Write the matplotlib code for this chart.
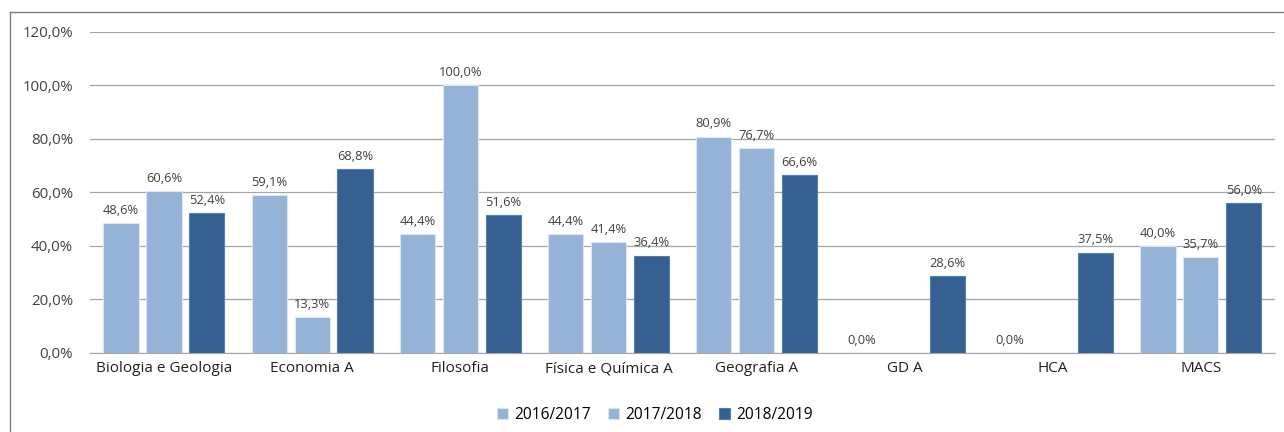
import numpy as np
import matplotlib.pyplot as plt
from matplotlib.lines import Line2D

categories = ['Biologia e Geologia', 'Economia A', 'Filosofia', 'Física e Química A',
              'Geografia A', 'GD A', 'HCA', 'MACS']
series_names = ['2016/2017', '2017/2018', '2018/2019']
v2016 = [48.6, 59.1, 44.4, 44.4, 80.9, 0.0, 0.0, 40.0]
v2017 = [60.6, 13.3, 100.0, 41.4, 76.7, np.nan, np.nan, 35.7]
v2018 = [52.4, 68.8, 51.6, 36.4, 66.6, 28.6, 37.5, 56.0]
colors = ['#95B3D7', '#95B3D7', '#366092']
edges = ['#DCE6F2', '#DCE6F2', '#4F81BD']

plt.rcParams['font.family'] = ['Open Sans', 'DejaVu Sans']

fig = plt.figure(figsize=(12.84, 4.32), dpi=100)
ax = fig.add_axes([0.070, 0.183, 0.923, 0.743])

x = np.arange(len(categories))
width = 0.237
step = 0.29
for i, (vals, name) in enumerate(zip([v2016, v2017, v2018], series_names)):
    pos = x + (i - 1) * step
    ax.bar(pos, vals, width, color=colors[i], edgecolor=edges[i], linewidth=0.8, label=name)
    for p, v in zip(pos, vals):
        if np.isnan(v):
            continue
        ax.text(p, v + 2.3, f'{v:.1f}%'.replace('.', ','), ha='center', va='bottom',
                fontsize=9.3, color='#404040')

ax.set_ylim(0, 120)
ax.set_xlim(-0.5, len(categories) - 0.5)
yt = np.arange(0, 121, 20)
ax.set_yticks(yt)
ax.set_yticklabels([f'{t:.1f}%'.replace('.', ',') for t in yt], fontsize=10.8, color='#404040')
ax.set_xticks(x)
ax.set_xticklabels(categories, fontsize=11, color='#202020')
ax.tick_params(axis='x', length=0, pad=6)
ax.tick_params(axis='y', length=0, pad=12)
ax.grid(axis='y', color='#A6A6A6', linewidth=0.9)
ax.set_axisbelow(True)
for s in ['top', 'right', 'left']:
    ax.spines[s].set_visible(False)
ax.spines['bottom'].set_color('#A6A6A6')

ax.legend(loc='upper center', bbox_to_anchor=(0.477, -0.125), ncol=3, frameon=False,
          fontsize=11.2, handlelength=0.7, handleheight=0.7, columnspacing=1.1, handletextpad=0.4)

# chart frame: top and left edges only
x0 = 10 / 1284
y0 = 1 - 12 / 432
fig.add_artist(Line2D([x0, 1], [y0, y0], transform=fig.transFigure, color='#7F7F7F', linewidth=1))
fig.add_artist(Line2D([x0, x0], [0, y0], transform=fig.transFigure, color='#7F7F7F', linewidth=1))

plt.savefig('out.png')
